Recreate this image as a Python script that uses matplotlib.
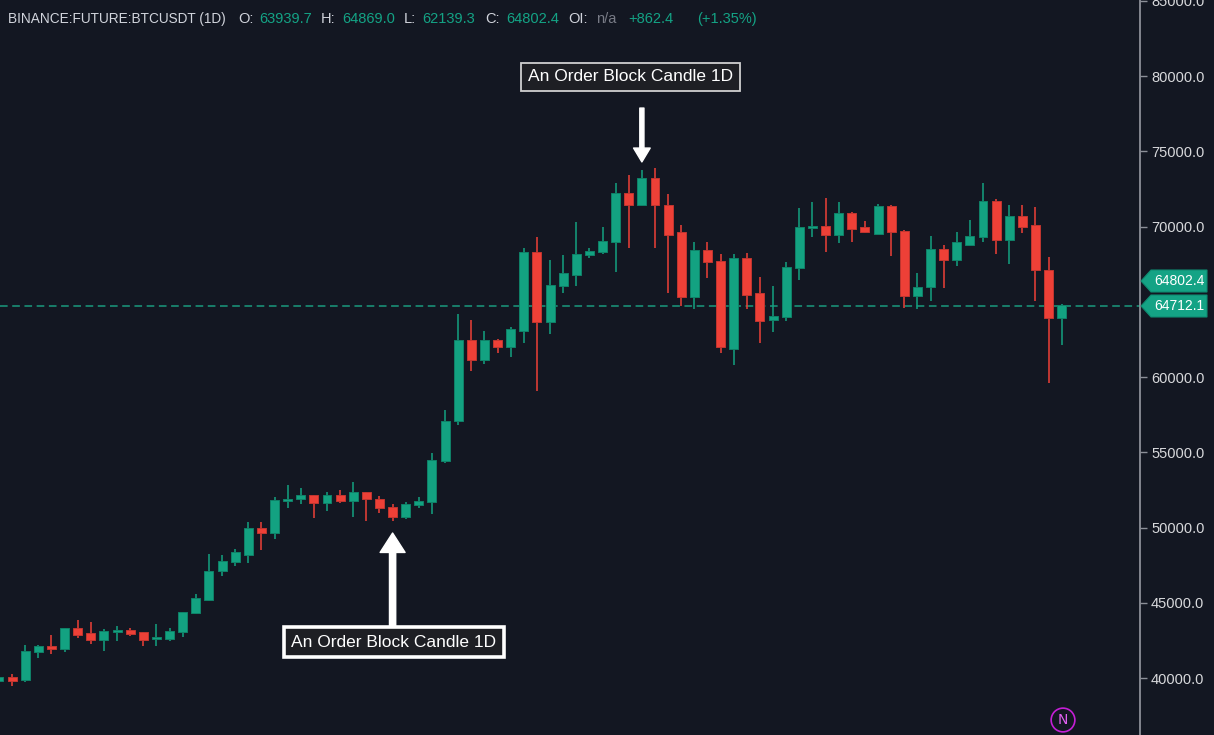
import numpy as np
import matplotlib
matplotlib.use('Agg')
import matplotlib.pyplot as plt
from matplotlib.patches import Polygon
from matplotlib.ticker import FuncFormatter

# daily candles, BINANCE:FUTURE:BTCUSDT
opens = [39800, 40050, 39870, 41710, 42130, 41950, 43300, 42970, 42540, 43080,
         43190, 43040, 42570, 42610, 43040, 44300, 45180, 47110, 47690, 48170,
         49950, 49610, 51780, 51870, 52160, 51610, 52160, 51780, 52340, 51910,
         51340, 50680, 51500, 51670, 54420, 57080, 62460, 61130, 62460, 61970,
         63060, 68290, 63630, 66050, 66780, 68130, 68290, 68950, 72210, 71450,
         73200, 71450, 69630, 65320, 68460, 67710, 61880, 67890, 65560, 63810,
         63990, 67220, 69880, 70030, 69460, 70880, 69950, 69520, 71360, 69700,
         65380, 65960, 68520, 67790, 68790, 69280, 71690, 69120, 70700, 70100,
         67130, 63939.7]
highs = [40130, 40270, 42190, 42190, 42860, 43340, 43850, 43740, 43260, 43440,
         43320, 43080, 43590, 43300, 44370, 45560, 48240, 48170, 48550, 50390,
         50390, 52050, 52820, 52600, 52160, 52380, 52490, 53040, 52340, 52110,
         51540, 51710, 52050, 54930, 57810, 64190, 63790, 63060, 62530, 63340,
         68570, 69320, 67770, 68090, 70320, 68570, 69990, 72910, 73420, 73750,
         73890, 72180, 70100, 68990, 68990, 68150, 68150, 68240, 66660, 66030,
         67660, 71210, 71650, 71890, 71650, 70980, 70390, 71490, 71430, 69770,
         66890, 69340, 68750, 69650, 70430, 72890, 71830, 71410, 71410, 71320,
         67990, 64869.0]
lows = [39730, 39490, 39750, 41350, 41570, 41750, 42680, 42240, 41810, 42480,
        42810, 42150, 42150, 42480, 42740, 44230, 45140, 46800, 47460, 47660,
        48500, 49220, 51320, 51560, 50650, 51120, 51650, 50720, 50450, 50980,
        50450, 50560, 51320, 50880, 54290, 56810, 60420, 60840, 61610, 61350,
        62280, 59090, 62860, 65600, 66070, 67930, 68150, 67000, 68590, 71380,
        68590, 65600, 64740, 64500, 66600, 61610, 60780, 64500, 62280, 63010,
        63740, 66430, 69320, 68330, 68920, 68990, 69570, 69520, 68060, 64600,
        64500, 65070, 65930, 67400, 68790, 68990, 68150, 67490, 69590, 65070,
        59620, 62139.3]
closes = [40070, 39800, 41790, 42130, 41950, 43300, 42880, 42540, 43120, 43190,
          42940, 42540, 42700, 43120, 44370, 45300, 47110, 47770, 48350, 49950,
          49610, 51830, 51910, 52160, 51610, 52160, 51780, 52340, 51870, 51280,
          50680, 51580, 51760, 54490, 57080, 62460, 61130, 62460, 61970, 63210,
          68290, 63630, 66110, 66890, 68190, 68370, 69040, 72210, 71450, 73200,
          71450, 69460, 65320, 68460, 67620, 61970, 67890, 65470, 63720, 64050,
          67290, 69950, 70030, 69460, 70880, 69850, 69610, 71360, 69610, 65380,
          65960, 68520, 67790, 68950, 69350, 71690, 69120, 70700, 69950, 67130,
          63940, 64802.4]

last_line = 64712.1
# 65000 sits under the price tags, so it is not shown
y_ticks = [40000, 45000, 50000, 55000, 60000, 70000, 75000, 80000, 85000]

# order block candles (index into the lists above)
ob_low = 30
ob_high = 49
ob_text = 'An Order Block Candle 1D'

BG = '#131722'
UP = '#13a281'
DOWN = '#ee4037'
TEAL = '#14a385'
W, H = 1214, 735


def px(x, y):
    # pixel -> figure fraction
    return x / W, 1 - y / H


def price_tag(y, text):
    # little flag on the price scale, tip on the axis line
    pts = [px(1141, y), px(1151, y - 11), px(1207, y - 11), px(1207, y + 11), px(1151, y + 11)]
    fig.patches.append(Polygon(pts, closed=True, transform=fig.transFigure,
                               fc=TEAL, ec='#0e8a70', lw=0.8, zorder=5))
    fig.text(*px(1154, y), text, color='white', fontsize=10, family='Liberation Sans',
             va='center', ha='left', zorder=6)


fig = plt.figure(figsize=(W / 100, H / 100), dpi=100, facecolor=BG)
ax = fig.add_axes([0, 0, 1140 / W, 1], facecolor=BG)

x = np.arange(len(opens))
o = np.array(opens)
c = np.array(closes)
colors = [UP if cc >= oo else DOWN for oo, cc in zip(o, c)]
edges = ['#0f8268' if cc >= oo else '#c23630' for oo, cc in zip(o, c)]

# wicks, then bodies
ax.vlines(x, lows, highs, colors=colors, linewidth=1.1, zorder=2)
body_h = np.maximum(np.abs(c - o), 40)
ax.bar(x, body_h, bottom=np.minimum(o, c), width=0.68, color=colors,
       edgecolor=edges, linewidth=0.7, zorder=3)

ax.axhline(last_line, color='#1a9a7e', linewidth=1.1, linestyle=(0, (5, 3)), zorder=1)

ax.set_xlim(1 / 13.12, 1141 / 13.12)
ax.set_ylim(36213, 85050)

# right price scale
for s in ['left', 'top', 'bottom']:
    ax.spines[s].set_visible(False)
ax.spines['right'].set_color('#8c8f98')
ax.spines['right'].set_linewidth(1.3)
ax.set_xticks([])
ax.yaxis.tick_right()
ax.set_yticks(y_ticks)
ax.yaxis.set_major_formatter(FuncFormatter(lambda v, p: '%.1f' % v))
ax.tick_params(axis='y', colors='#8c8f98', length=5, width=1, pad=3,
               labelcolor='#d8d9dc', labelsize=10.5)
for t in ax.get_yticklabels():
    t.set_fontfamily('Liberation Sans')

# price tags on the scale
price_tag(281, '%.1f' % closes[-1])
price_tag(306, '%.1f' % last_line)

# header line
chg = closes[-1] - closes[-2]
pct = chg / closes[-2] * 100
lab = '#d1d4dc'
hdr = [(8, 'BINANCE:FUTURE:BTCUSDT (1D)', lab, 9.8),
       (238, 'O:', lab, 10.5), (259, '%.1f' % opens[-1], TEAL, 10.5),
       (321, 'H:', lab, 10.5), (342, '%.1f' % highs[-1], TEAL, 10.5),
       (404, 'L:', lab, 10.5), (422, '%.1f' % lows[-1], TEAL, 10.5),
       (485, 'C:', lab, 10.5), (506, '%.1f' % closes[-1], TEAL, 10.5),
       (568, 'OI:', lab, 10.5), (596, 'n/a', '#787b86', 10.5),
       (628, '%+.1f' % chg, TEAL, 10.5), (697, '(%+.2f%%)' % pct, TEAL, 10.5)]
for hx, s, col, fs in hdr:
    fig.text(*px(hx, 19), s, color=col, fontsize=fs, family='Liberation Sans',
             va='center', ha='left')

# annotations
ax.annotate('', xy=(ob_high, 74290), xytext=(ob_high, 77870),
            arrowprops=dict(arrowstyle='simple,head_length=10,head_width=12,tail_width=3',
                            mutation_scale=1, color='white', shrinkA=0, shrinkB=0))
ax.text(48.1, 79934, ob_text, color='white', fontsize=12.5, family='Liberation Sans',
        ha='center', va='center',
        bbox=dict(boxstyle='square,pad=0.4', fc='#1e1f24', ec='#d0d0d0', lw=1.3))

ax.annotate('', xy=(ob_low, 49634), xytext=(ob_low, 43190),
            arrowprops=dict(arrowstyle='simple,head_length=14,head_width=18,tail_width=4.5',
                            mutation_scale=1, color='white', shrinkA=0, shrinkB=0))
ax.text(30.1, 42392, ob_text, color='white', fontsize=12.5, family='Liberation Sans',
        ha='center', va='center', zorder=5,
        bbox=dict(boxstyle='square,pad=0.45', fc='#1e1f24', ec='white', lw=2.6))

# watermark badge
fig.text(*px(1063, 720), 'N', color='#e060f0', fontsize=10, family='DejaVu Sans',
         ha='center', va='center',
         bbox=dict(boxstyle='circle,pad=0.35', fc='none', ec='#c41fd6', lw=1.2))

fig.savefig('out.png', dpi=100, facecolor=BG)
